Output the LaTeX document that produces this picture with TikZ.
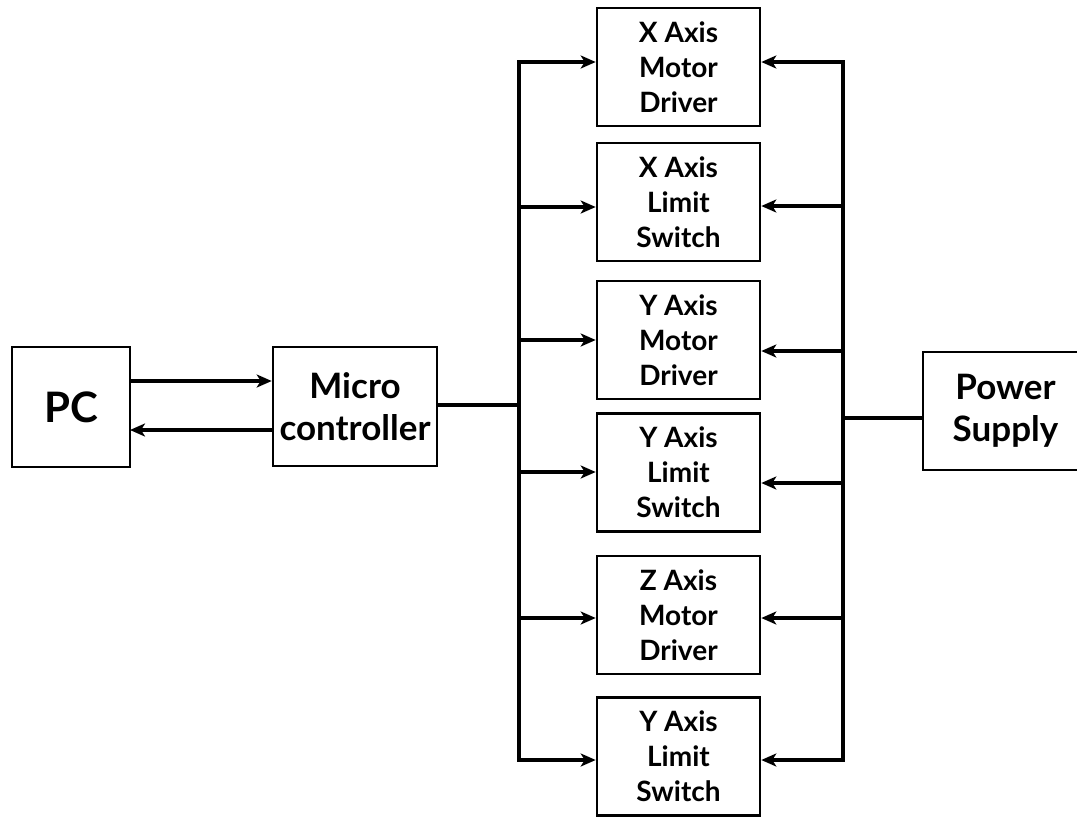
\documentclass[tikz,border=0pt]{standalone}
\usepackage{fontspec}
\setmainfont{Lato}
\usetikzlibrary{arrows.meta}
\begin{document}
\begin{tikzpicture}[x=1pt,y=-1pt,
  box/.style={draw,line width=2.6pt,rectangle,inner sep=0pt,align=center},
  colbox/.style={box,minimum width=163pt,minimum height=118pt,font=\fontsize{28}{35}\selectfont\bfseries},
  bigbox/.style={box,font=\fontsize{35}{42}\selectfont\bfseries},
  conn/.style={line width=3.4pt},
  arr/.style={conn,-{Stealth[length=15pt,width=13pt,inset=4pt]}}]
\useasboundingbox (0,0) rectangle (1077,817);
% left blocks
\node[box,minimum width=118pt,minimum height=120pt,font=\fontsize{42}{50}\selectfont\bfseries] (pc) at (71,407) {PC};
\node[bigbox,minimum width=164pt,minimum height=119pt] (mc) at (355,406.5) {Micro\\controller};
\node[bigbox,minimum width=165pt,minimum height=118pt] (ps) at (1005.5,411) {Power\\Supply};
% column blocks
\node[colbox] (b1) at (678.5,67) {X Axis\\Motor\\Driver};
\node[colbox] (b2) at (678.5,202) {X Axis\\Limit\\Switch};
\node[colbox] (b3) at (678.5,340) {Y Axis\\Motor\\Driver};
\node[colbox] (b4) at (678.5,472.5) {Y Axis\\Limit\\Switch};
\node[colbox] (b5) at (678.5,615) {Z Axis\\Motor\\Driver};
\node[colbox] (b6) at (678.5,756.5) {Y Axis\\Limit\\Switch};
% PC <-> Micro
\coordinate (pa) at (130,381);
\coordinate (pb) at (130,430);
\draw[arr] (pa) -- (pa -| mc.west);
\draw[arr] (pb -| mc.west) -- (pb);
% left bus
\coordinate (L0) at (519,405);
\coordinate (L1) at (519,62);
\coordinate (L2) at (519,207);
\coordinate (L3) at (519,340);
\coordinate (L4) at (519,472);
\coordinate (L5) at (519,618);
\coordinate (L6) at (519,760);
\draw[conn] (L0 -| mc.east) -- (L0);
\draw[conn,line cap=rect] (L1) -- (L6);
\draw[arr] (L1) -- (L1 -| b1.west);
\draw[arr] (L2) -- (L2 -| b2.west);
\draw[arr] (L3) -- (L3 -| b3.west);
\draw[arr] (L4) -- (L4 -| b4.west);
\draw[arr] (L5) -- (L5 -| b5.west);
\draw[arr] (L6) -- (L6 -| b6.west);
% right bus
\coordinate (R0) at (843,418);
\coordinate (R1) at (843,62);
\coordinate (R2) at (843,206);
\coordinate (R3) at (843,351);
\coordinate (R4) at (843,483);
\coordinate (R5) at (843,618);
\coordinate (R6) at (843,760);
\draw[conn] (R0) -- (R0 -| ps.west);
\draw[conn,line cap=rect] (R1) -- (R6);
\draw[arr] (R1) -- (R1 -| b1.east);
\draw[arr] (R2) -- (R2 -| b2.east);
\draw[arr] (R3) -- (R3 -| b3.east);
\draw[arr] (R4) -- (R4 -| b4.east);
\draw[arr] (R5) -- (R5 -| b5.east);
\draw[arr] (R6) -- (R6 -| b6.east);
\end{tikzpicture}
\end{document}
